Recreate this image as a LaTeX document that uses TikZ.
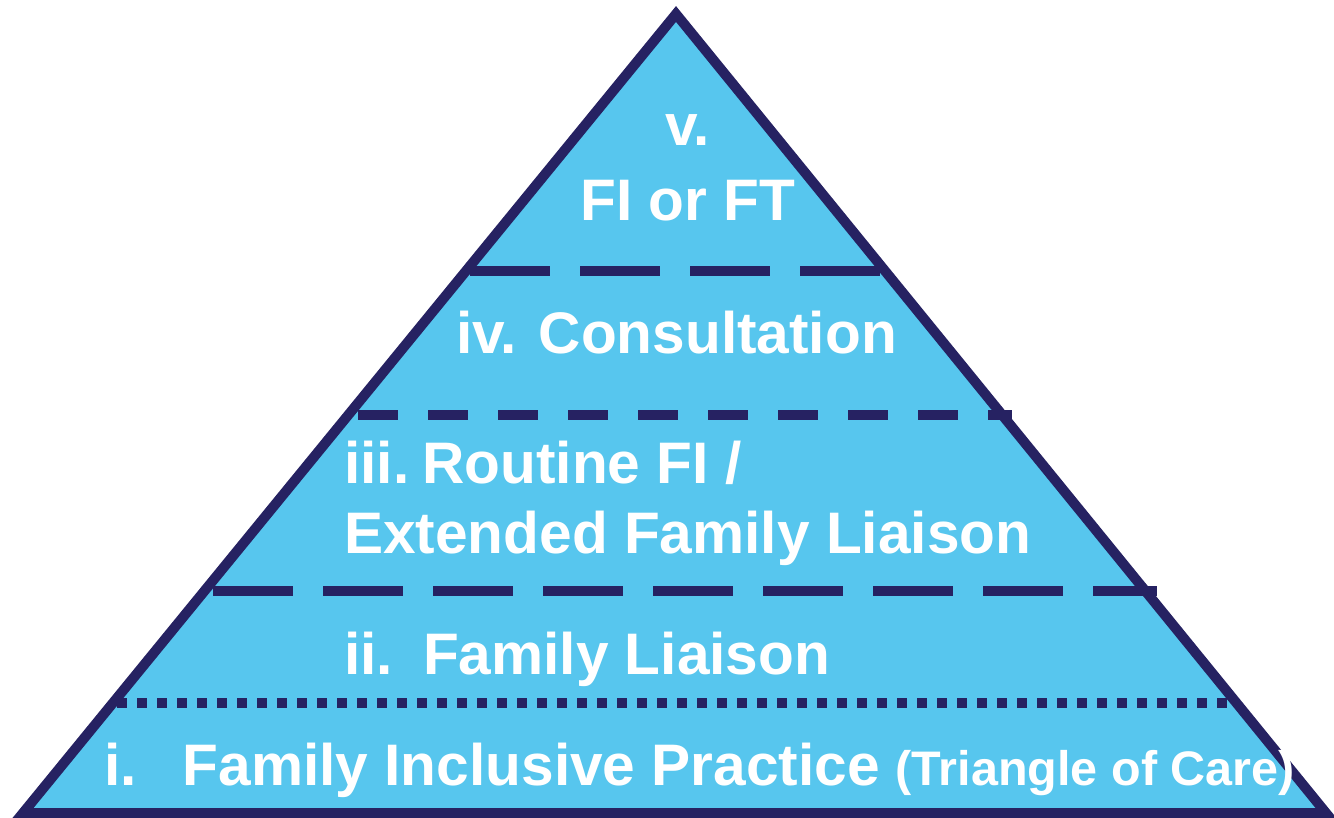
\documentclass[tikz,border=0pt]{standalone}
\usepackage{fontspec}
\setmainfont{Liberation Sans}
\definecolor{tierfill}{RGB}{87,198,238}
\definecolor{tierline}{RGB}{38,34,98}
\begin{document}
\begin{tikzpicture}[x=1pt,y=-1pt,
  tierlabel/.style={text=white,font=\bfseries\fontsize{58.6}{70}\selectfont,inner sep=0pt,anchor=base west},
  longdash/.style={draw=tierline,line width=10pt,dash pattern=on 80pt off 30pt},
  shortdash/.style={draw=tierline,line width=10pt,dash pattern=on 40pt off 30pt},
  dotline/.style={draw=tierline,line width=9.5pt,dash pattern=on 10pt off 10pt}]
\useasboundingbox (0,0) rectangle (1334,818);
% pyramid outline
\coordinate (apex) at (676,14);
\coordinate (bl) at (23,813);
\coordinate (br) at (1326,813);
\draw[fill=tierfill,draw=tierline,line width=10pt,line join=miter,miter limit=10]
  (apex) -- (br) -- (bl) -- cycle;
% tier separators
\coordinate (s1a) at (470,271); \coordinate (s1b) at (880,271);
\coordinate (s2a) at (358,415); \coordinate (s2b) at (1012,415);
\coordinate (s3a) at (213,591); \coordinate (s3b) at (1157,591);
\coordinate (s4a) at (117,703); \coordinate (s4b) at (1234,703);
\draw[longdash] (s1a) -- (s1b);
\draw[shortdash] (s2a) -- (s2b);
\draw[longdash] (s3a) -- (s3b);
\draw[dotline] (s4a) -- (s4b);
% tier labels
\node[tierlabel,anchor=base] (t5a) at (688,146) {v.};
\node[tierlabel,anchor=base] (t5b) at (688,221) {FI or FT};
\node[tierlabel] (t4) at (456,354) {iv. Consultation};
\node[tierlabel] (t3a) at (344,483) {iii.\hspace{13pt}Routine FI /};
\node[tierlabel] (t3b) at (344,553) {Extended Family Liaison};
\node[tierlabel] (t2) at (344,674) {ii.\hspace{30pt}Family Liaison};
\node[tierlabel] (t1) at (104,785) {i.\hspace{46pt}Family Inclusive Practice\hspace{16pt}{\fontsize{48.5}{56}\selectfont(Triangle of Care)}};
\end{tikzpicture}
\end{document}
